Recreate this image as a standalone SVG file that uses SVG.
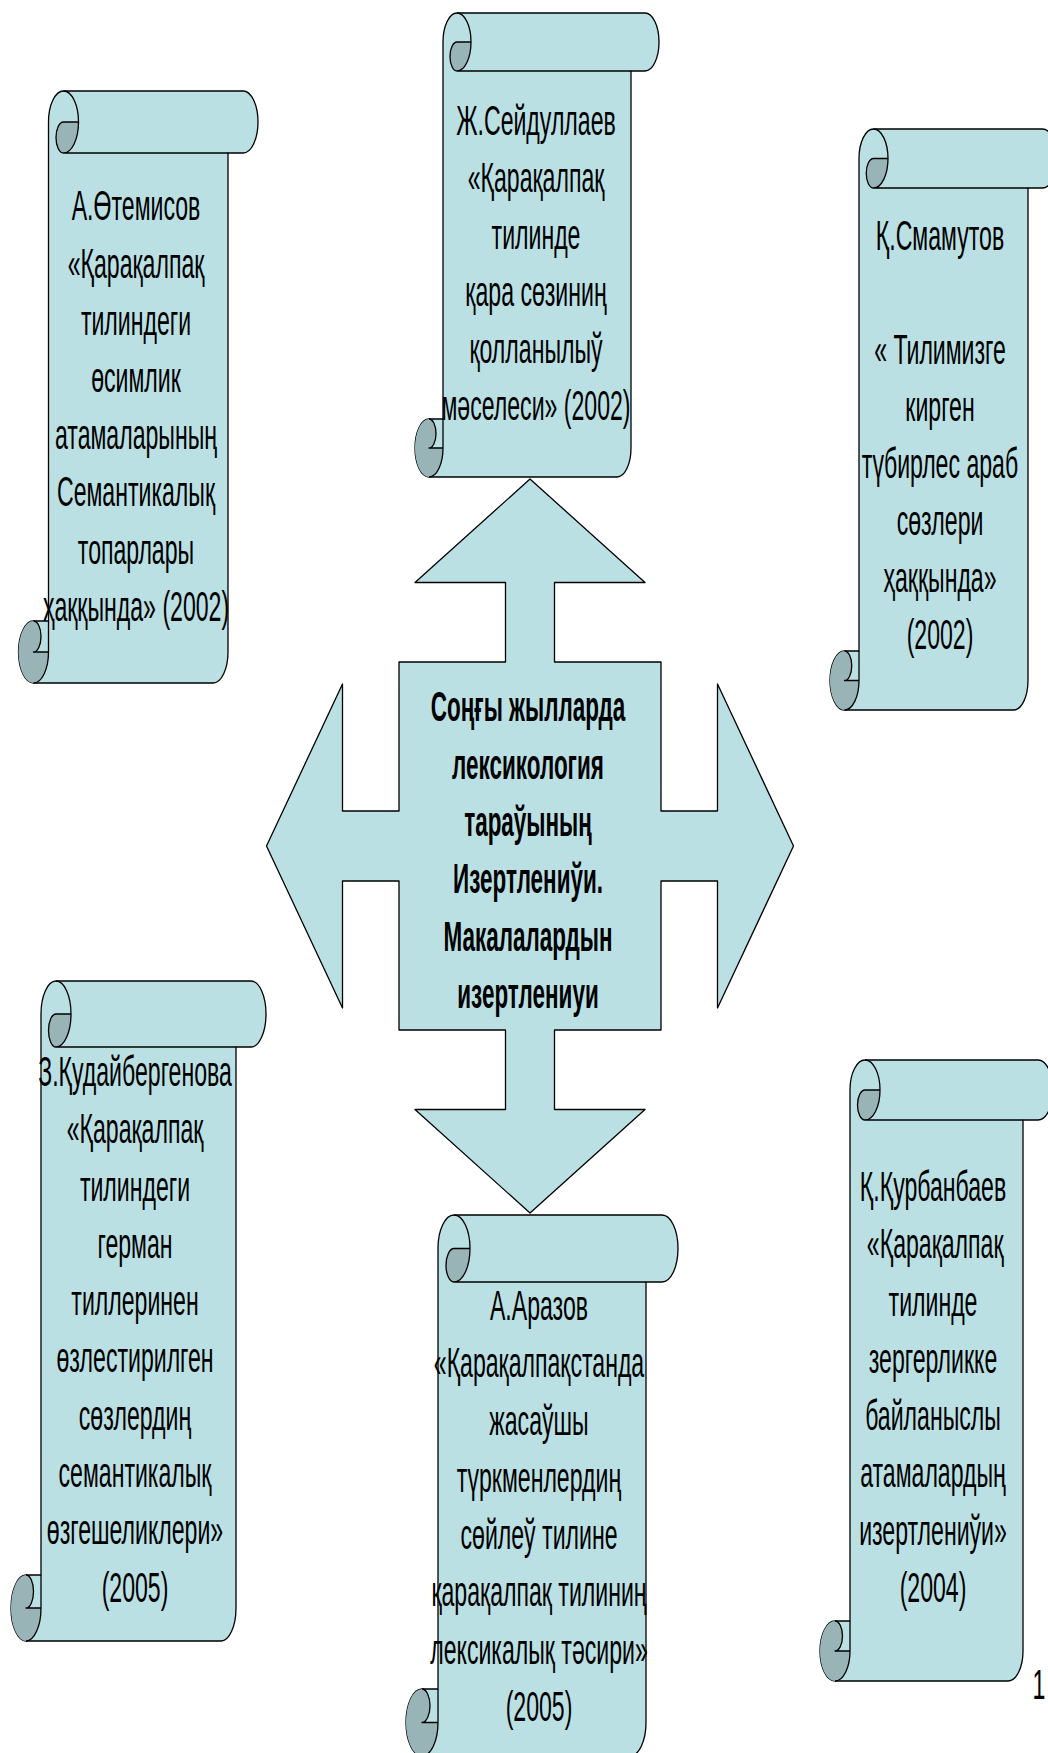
<svg xmlns="http://www.w3.org/2000/svg" width="1048" height="1753" viewBox="0 0 1048 1753">
<style>
.body{fill:#BBE0E3;stroke:#000;stroke-width:1.3;stroke-linejoin:round}
.dark{fill:#98B4B6;stroke:none}
.ln{fill:none;stroke:#000;stroke-width:1.3;stroke-linejoin:round}
.t{font-family:"Liberation Sans",Arial,sans-serif;font-size:42px;fill:#000;text-anchor:middle}
.b{font-weight:bold}
</style>
<rect x="0" y="0" width="1048" height="1753" fill="#fff"/>
<g id="connectors">
<path id="quad-arrow" class="body" d="M530,479 L645,582.5 L554.5,582.5 L554.5,662 L661,662 L661,811 L717.5,811 L717.5,684 L793.5,846 L717.5,1008 L717.5,881 L661,881 L661,1030 L554.5,1030 L554.5,1109.5 L645,1109.5 L530,1213 L415,1109.5 L505.5,1109.5 L505.5,1030 L399,1030 L399,881 L342.5,881 L342.5,1008 L266.5,846 L342.5,684 L342.5,811 L399,811 L399,662 L505.5,662 L505.5,582.5 L415,582.5 Z"/>
</g>
<g id="center-node">
<g class="t b" transform="matrix(0.535,0,0,1,528,0)">
<text x="0" y="721.5">Соңғы жылларда</text>
<text x="0" y="778.8">лексикология</text>
<text x="0" y="836">тараўының</text>
<text x="0" y="893.3">Изертлениўи.</text>
<text x="0" y="950.6">Макалалардын</text>
<text x="0" y="1008">изертлениуи</text>
</g>
</g>
<g id="scroll-1">
<path class="body" d="M48.5,621 L48.5,122 A15,31 0 0 1 63.5,91 L243,91 A15,31 0 0 1 243,153 L228,153 L228,652 A15,31 0 0 1 213,683 L33.5,683 A15,31 0 0 1 33.5,621 Z"/>
<path class="dark" d="M63.5,153 A7.5,15.5 0 0 1 63.5,122 L78.5,122 A15,31 0 0 1 63.5,153 Z"/>
<path class="dark" d="M33.5,621 A15,31 0 0 0 33.5,683 A15,31 0 0 0 48.5,652 L33.5,652 A7.5,15.5 0 0 0 33.5,621 Z"/>
<path class="ln" d="M63.5,91 A15,31 0 0 1 63.5,153 A7.5,15.5 0 0 1 63.5,122 L78.5,122 M228,153 L63.5,153 M33.5,621 A7.5,15.5 0 0 1 33.5,652 L48.5,652 M33.5,683 A15,31 0 0 0 48.5,652 L48.5,621"/>
<g class="t" transform="matrix(0.55,0,0,1,136,0)">
<text x="0" y="220.5">А.Өтемисов</text>
<text x="0" y="277.7">«Қарақалпақ</text>
<text x="0" y="334.9">тилиндеги</text>
<text x="0" y="392.1">өсимлик</text>
<text x="0" y="449.3">атамаларының</text>
<text x="0" y="506.5">Семантикалық</text>
<text x="0" y="563.7">топарлары</text>
<text x="0" y="620.9">ҳаққында» (2002)</text>
</g>
</g>
<g id="scroll-2">
<path class="body" d="M443,419 L443,42 A14,29 0 0 1 457,13 L645,13 A14,29 0 0 1 645,71 L631,71 L631,448 A14,29 0 0 1 617,477 L429,477 A14,29 0 0 1 429,419 Z"/>
<path class="dark" d="M457,71 A7,14.5 0 0 1 457,42 L471,42 A14,29 0 0 1 457,71 Z"/>
<path class="dark" d="M429,419 A14,29 0 0 0 429,477 A14,29 0 0 0 443,448 L429,448 A7,14.5 0 0 0 429,419 Z"/>
<path class="ln" d="M457,13 A14,29 0 0 1 457,71 A7,14.5 0 0 1 457,42 L471,42 M631,71 L457,71 M429,419 A7,14.5 0 0 1 429,448 L443,448 M429,477 A14,29 0 0 0 443,448 L443,419"/>
<g class="t" transform="matrix(0.55,0,0,1,536,0)">
<text x="0" y="135.5">Ж.Сейдуллаев</text>
<text x="0" y="192.5">«Қарақалпақ</text>
<text x="0" y="249.5">тилинде</text>
<text x="0" y="306.5">қара сөзиниң</text>
<text x="0" y="363.5">қолланылыў</text>
<text x="0" y="420.5">мәселеси» (2002)</text>
</g>
</g>
<g id="scroll-3">
<path class="body" d="M859,651 L859,158.5 A14.5,29.5 0 0 1 873.5,129 L1042.5,129 A14.5,29.5 0 0 1 1042.5,188 L1028,188 L1028,680.5 A14.5,29.5 0 0 1 1013.5,710 L844.5,710 A14.5,29.5 0 0 1 844.5,651 Z"/>
<path class="dark" d="M873.5,188 A7.25,14.75 0 0 1 873.5,158.5 L888,158.5 A14.5,29.5 0 0 1 873.5,188 Z"/>
<path class="dark" d="M844.5,651 A14.5,29.5 0 0 0 844.5,710 A14.5,29.5 0 0 0 859,680.5 L844.5,680.5 A7.25,14.75 0 0 0 844.5,651 Z"/>
<path class="ln" d="M873.5,129 A14.5,29.5 0 0 1 873.5,188 A7.25,14.75 0 0 1 873.5,158.5 L888,158.5 M1028,188 L873.5,188 M844.5,651 A7.25,14.75 0 0 1 844.5,680.5 L859,680.5 M844.5,710 A14.5,29.5 0 0 0 859,680.5 L859,651"/>
<g class="t" transform="matrix(0.55,0,0,1,940,0)">
<text x="0" y="250.5">Қ.Смамутов</text>
<text x="0" y="364.5">« Тилимизге</text>
<text x="0" y="421.5">кирген</text>
<text x="0" y="478.5">түбирлес араб</text>
<text x="0" y="535.5">сөзлери</text>
<text x="0" y="592.5">ҳаққында»</text>
<text x="0" y="649.5">(2002)</text>
</g>
</g>
<g id="scroll-4">
<path class="body" d="M41,1575 L41,1014 A15,33 0 0 1 56,981 L251,981 A15,33 0 0 1 251,1047 L236,1047 L236,1608 A15,33 0 0 1 221,1641 L26,1641 A15,33 0 0 1 26,1575 Z"/>
<path class="dark" d="M56,1047 A7.5,16.5 0 0 1 56,1014 L71,1014 A15,33 0 0 1 56,1047 Z"/>
<path class="dark" d="M26,1575 A15,33 0 0 0 26,1641 A15,33 0 0 0 41,1608 L26,1608 A7.5,16.5 0 0 0 26,1575 Z"/>
<path class="ln" d="M56,981 A15,33 0 0 1 56,1047 A7.5,16.5 0 0 1 56,1014 L71,1014 M236,1047 L56,1047 M26,1575 A7.5,16.5 0 0 1 26,1608 L41,1608 M26,1641 A15,33 0 0 0 41,1608 L41,1575"/>
<g class="t" transform="matrix(0.55,0,0,1,135,0)">
<text x="0" y="1086">З.Қудайбергенова</text>
<text x="0" y="1143.3">«Қарақалпақ</text>
<text x="0" y="1200.6">тилиндеги</text>
<text x="0" y="1257.9">герман</text>
<text x="0" y="1315.2">тиллеринен</text>
<text x="0" y="1372.5">өзлестирилген</text>
<text x="0" y="1429.8">сөзлердиң</text>
<text x="0" y="1487.1">семантикалық</text>
<text x="0" y="1544.4">өзгешеликлери»</text>
<text x="0" y="1601.7">(2005)</text>
</g>
</g>
<g id="scroll-5">
<path class="body" d="M850,1621 L850,1090 A15,30 0 0 1 865,1060 L1038,1060 A15,30 0 0 1 1038,1120 L1023,1120 L1023,1651 A15,30 0 0 1 1008,1681 L835,1681 A15,30 0 0 1 835,1621 Z"/>
<path class="dark" d="M865,1120 A7.5,15 0 0 1 865,1090 L880,1090 A15,30 0 0 1 865,1120 Z"/>
<path class="dark" d="M835,1621 A15,30 0 0 0 835,1681 A15,30 0 0 0 850,1651 L835,1651 A7.5,15 0 0 0 835,1621 Z"/>
<path class="ln" d="M865,1060 A15,30 0 0 1 865,1120 A7.5,15 0 0 1 865,1090 L880,1090 M1023,1120 L865,1120 M835,1621 A7.5,15 0 0 1 835,1651 L850,1651 M835,1681 A15,30 0 0 0 850,1651 L850,1621"/>
<g class="t" transform="matrix(0.55,0,0,1,933,0)">
<text x="0" y="1201">Қ.Қурбанбаев</text>
<text x="4" y="1258.3">«Қарақалпақ</text>
<text x="0" y="1315.6">тилинде</text>
<text x="0" y="1372.9">зергерликке</text>
<text x="0" y="1430.2">байланыслы</text>
<text x="0" y="1487.5">атамалардың</text>
<text x="0" y="1544.8">изертлениўи»</text>
<text x="0" y="1602.1">(2004)</text>
</g>
</g>
<g id="scroll-6">
<path class="body" d="M438,1689 L438,1248.5 A16,33.5 0 0 1 454,1215 L662,1215 A16,33.5 0 0 1 662,1282 L646,1282 L646,1722.5 A16,33.5 0 0 1 630,1756 L422,1756 A16,33.5 0 0 1 422,1689 Z"/>
<path class="dark" d="M454,1282 A8,16.75 0 0 1 454,1248.5 L470,1248.5 A16,33.5 0 0 1 454,1282 Z"/>
<path class="dark" d="M422,1689 A16,33.5 0 0 0 422,1756 A16,33.5 0 0 0 438,1722.5 L422,1722.5 A8,16.75 0 0 0 422,1689 Z"/>
<path class="ln" d="M454,1215 A16,33.5 0 0 1 454,1282 A8,16.75 0 0 1 454,1248.5 L470,1248.5 M646,1282 L454,1282 M422,1689 A8,16.75 0 0 1 422,1722.5 L438,1722.5 M422,1756 A16,33.5 0 0 0 438,1722.5 L438,1689"/>
<g class="t" transform="matrix(0.55,0,0,1,539,0)">
<text x="0" y="1320">А.Аразов</text>
<text x="0" y="1377.3">«Қарақалпақстанда</text>
<text x="0" y="1434.6">жасаўшы</text>
<text x="0" y="1491.9">түркменлердиң</text>
<text x="0" y="1549.2">сөйлеў тилине</text>
<text x="0" y="1606.5">қарақалпақ тилиниң</text>
<text x="0" y="1663.8">лексикалық тәсири»</text>
<text x="0" y="1721.1">(2005)</text>
</g>
</g>
<g id="page-number" class="t" transform="matrix(0.55,0,0,1,1039,0)">
<text x="0" y="1699">1</text>
</g>
</svg>
